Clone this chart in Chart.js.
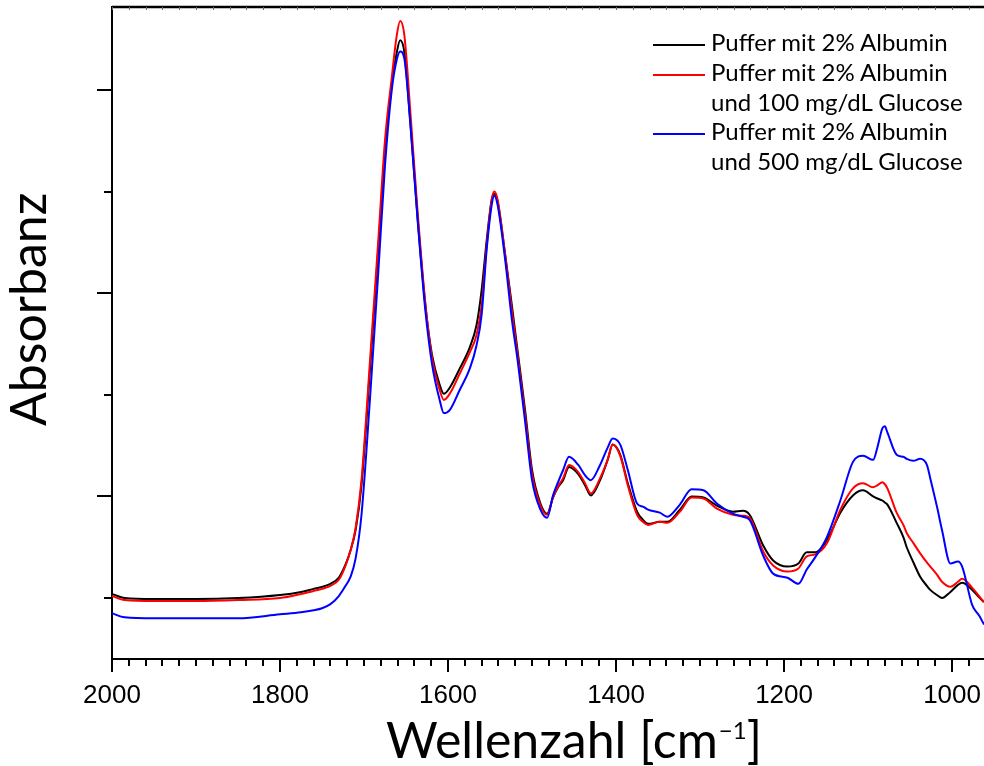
<!DOCTYPE html>
<html>
<head>
<meta charset="utf-8">
<script src="https://cdn.jsdelivr.net/npm/chart.js@4.4.1/dist/chart.umd.min.js"></script>
<style>
  html, body { margin: 0; padding: 0; background: #fff; }
  #wrap { position: relative; width: 984px; height: 766px; overflow: hidden; }
  #chart { position: absolute; left: 0; top: 0; }
  .title { position: absolute; font-family: Lato, sans-serif; font-size: 50px; line-height: 1; white-space: nowrap; color: #000; }
  #xtitle { left: 386px; top: 714px; }
  #xtitle .sup { font-size: 24px; position: relative; top: -19px; margin-left: 1px; }
  #ytitle { left: 0; top: 0; transform-origin: 0 0; transform: translate(2px, 426px) rotate(-90deg); }
  #legend { position: absolute; left: 653px; top: 27px; font-family: Lato, sans-serif; font-size: 24px; color: #000; }
  #legend .row { height: 29.8px; line-height: 29.8px; white-space: nowrap; }
  #legend .sw { display: inline-block; width: 52px; height: 2px; vertical-align: middle; margin-right: 6px; }
  #legend .indent { padding-left: 58px; }
</style>
</head>
<body>
<div id="wrap">
  <canvas id="chart" width="984" height="766"></canvas>
  <div class="title" id="xtitle">Wellenzahl [cm<span class="sup">−1</span>]</div>
  <div class="title" id="ytitle">Absorbanz</div>
  <div id="legend"></div>
</div>
<script>
// wavenumbers in cm-1 (shared by all three spectra)
const wavenumbers = [2000, 1985, 1950, 1900, 1850, 1800, 1775, 1760, 1750, 1740,
  1730, 1722, 1716, 1710, 1703, 1693, 1683, 1675, 1667, 1661,
  1657, 1652, 1645, 1636, 1627, 1619, 1610, 1605, 1598, 1586,
  1574, 1566, 1560, 1554, 1548, 1545, 1541, 1532, 1524, 1517,
  1508, 1500, 1490, 1482, 1475, 1469, 1463, 1456, 1445, 1437,
  1430, 1419, 1410, 1404, 1395, 1386, 1375, 1368, 1362, 1348,
  1339, 1324, 1310, 1296, 1280, 1261, 1249, 1241, 1225, 1213,
  1196, 1183, 1173, 1163, 1149, 1133, 1118, 1106, 1094, 1089,
  1083, 1080, 1077, 1066, 1058, 1054, 1046, 1038, 1030, 1026,
  1018, 1012, 1002, 993, 988, 976, 968, 962];

// Puffer mit 2% Albumin
const albumin = [0.104, 0.100, 0.099, 0.099, 0.100, 0.103, 0.106, 0.109, 0.111, 0.114,
  0.120, 0.133, 0.147, 0.167, 0.211, 0.324, 0.444, 0.541, 0.605, 0.637,
  0.649, 0.637, 0.570, 0.472, 0.388, 0.339, 0.310, 0.301, 0.307, 0.326,
  0.347, 0.369, 0.403, 0.452, 0.492, 0.498, 0.490, 0.438, 0.388, 0.342,
  0.283, 0.226, 0.193, 0.183, 0.199, 0.209, 0.216, 0.229, 0.222, 0.211,
  0.201, 0.216, 0.236, 0.251, 0.241, 0.213, 0.185, 0.177, 0.173, 0.175,
  0.175, 0.187, 0.200, 0.199, 0.191, 0.185, 0.186, 0.182, 0.152, 0.137,
  0.131, 0.134, 0.145, 0.145, 0.157, 0.184, 0.201, 0.206, 0.200, 0.198,
  0.196, 0.194, 0.192, 0.174, 0.160, 0.150, 0.135, 0.121, 0.112, 0.108,
  0.103, 0.100, 0.106, 0.113, 0.115, 0.108, 0.101, 0.096];

// Puffer mit 2% Albumin und 100 mg/dL Glucose
const glucose100 = [0.102, 0.098, 0.097, 0.097, 0.098, 0.100, 0.104, 0.107, 0.109, 0.112,
  0.118, 0.132, 0.147, 0.169, 0.216, 0.332, 0.452, 0.551, 0.612, 0.654,
  0.668, 0.654, 0.580, 0.478, 0.390, 0.336, 0.305, 0.295, 0.301, 0.321,
  0.342, 0.359, 0.388, 0.447, 0.492, 0.500, 0.492, 0.438, 0.383, 0.338,
  0.278, 0.222, 0.191, 0.182, 0.199, 0.210, 0.218, 0.231, 0.224, 0.213,
  0.203, 0.218, 0.236, 0.251, 0.240, 0.211, 0.182, 0.175, 0.172, 0.175,
  0.174, 0.185, 0.199, 0.198, 0.188, 0.182, 0.181, 0.179, 0.146, 0.132,
  0.126, 0.129, 0.141, 0.143, 0.154, 0.187, 0.208, 0.213, 0.209, 0.211,
  0.214, 0.212, 0.208, 0.184, 0.172, 0.164, 0.154, 0.144, 0.135, 0.131,
  0.123, 0.116, 0.111, 0.116, 0.119, 0.110, 0.102, 0.096];

// Puffer mit 2% Albumin und 500 mg/dL Glucose
const glucose500 = [0.085, 0.081, 0.080, 0.080, 0.080, 0.084, 0.086, 0.088, 0.090, 0.094,
  0.102, 0.112, 0.121, 0.139, 0.182, 0.295, 0.421, 0.526, 0.600, 0.630,
  0.638, 0.631, 0.568, 0.470, 0.383, 0.330, 0.295, 0.282, 0.285, 0.305,
  0.326, 0.349, 0.379, 0.443, 0.487, 0.496, 0.487, 0.433, 0.374, 0.333,
  0.272, 0.216, 0.187, 0.179, 0.201, 0.214, 0.226, 0.239, 0.231, 0.221,
  0.216, 0.231, 0.248, 0.257, 0.251, 0.226, 0.193, 0.190, 0.187, 0.184,
  0.180, 0.192, 0.207, 0.206, 0.193, 0.183, 0.180, 0.177, 0.142, 0.124,
  0.120, 0.114, 0.128, 0.140, 0.160, 0.196, 0.234, 0.240, 0.236, 0.248,
  0.267, 0.269, 0.263, 0.241, 0.239, 0.237, 0.235, 0.237, 0.231, 0.218,
  0.190, 0.167, 0.134, 0.136, 0.131, 0.093, 0.083, 0.074];

const seriesLabels = [
  ['Puffer mit 2% Albumin'],
  ['Puffer mit 2% Albumin', 'und 100 mg/dL Glucose'],
  ['Puffer mit 2% Albumin', 'und 500 mg/dL Glucose']
];
const seriesColors = ['#000000', '#ff0000', '#0000ff'];

// axis ticks (y axis has no labels)
const xTickLabels = [2000, 1800, 1600, 1400, 1200, 1000];
const xMinorStep = 20;
const yTicks = [0.1, 0.2, 0.3, 0.4, 0.5, 0.6];
const yMajorTicks = [0.2, 0.4, 0.6];

const toPoints = arr => wavenumbers.map((w, i) => ({ x: w, y: arr[i] }));
const allSeries = [albumin, glucose100, glucose500];

// legend (html, two-line entries)
const legendEl = document.getElementById('legend');
seriesLabels.forEach((lines, i) => {
  lines.forEach((t, j) => {
    const row = document.createElement('div');
    row.className = 'row' + (j > 0 ? ' indent' : '');
    if (j === 0) {
      const sw = document.createElement('span');
      sw.className = 'sw';
      sw.style.background = seriesColors[i];
      row.appendChild(sw);
    }
    row.appendChild(document.createTextNode(t));
    legendEl.appendChild(row);
  });
});

// outward tick marks + top frame line
const tickMarks = {
  id: 'tickMarks',
  afterDraw(chart) {
    const { ctx, chartArea: a, scales: { x, y } } = chart;
    ctx.save();
    ctx.strokeStyle = '#000';
    ctx.lineWidth = 2;
    ctx.beginPath();
    yTicks.forEach(v => {
      const py = Math.round(y.getPixelForValue(v));
      const len = yMajorTicks.includes(v) ? 15 : 8;
      ctx.moveTo(a.left - len, py);
      ctx.lineTo(a.left, py);
    });
    for (let w = 2000; w >= x.min; w -= xMinorStep) {
      const px = Math.round(x.getPixelForValue(w));
      const len = xTickLabels.includes(w) ? 13 : 7;
      ctx.moveTo(px, a.bottom);
      ctx.lineTo(px, a.bottom + len);
    }
    ctx.stroke();
    // top frame
    ctx.lineWidth = 2.5;
    ctx.beginPath();
    ctx.moveTo(a.left, a.top);
    ctx.lineTo(a.right, a.top);
    ctx.stroke();
    ctx.lineWidth = 1;
    ctx.strokeStyle = '#666';
    ctx.beginPath();
    for (let w = 2000; w >= x.min; w -= xMinorStep) {
      const px = Math.round(x.getPixelForValue(w)) + 0.5;
      ctx.moveTo(px, a.top);
      ctx.lineTo(px, a.top + 3);
    }
    ctx.stroke();
    ctx.restore();
  }
};

new Chart(document.getElementById('chart'), {
  type: 'line',
  data: {
    datasets: allSeries.map((s, i) => ({
      label: seriesLabels[i].join(' '),
      data: toPoints(s),
      borderColor: seriesColors[i],
      borderWidth: 2,
      pointRadius: 0,
      fill: false,
      cubicInterpolationMode: 'monotone',
      order: 3 - i
    }))
  },
  options: {
    responsive: false,
    animation: false,
    devicePixelRatio: 1,
    layout: { padding: { top: 7, left: 0, right: 0, bottom: 0 } },
    plugins: { legend: { display: false }, tooltip: { enabled: false } },
    scales: {
      x: {
        type: 'linear',
        reverse: true,
        min: 962,
        max: 2000,
        afterBuildTicks: s => { s.ticks = xTickLabels.map(v => ({ value: v })); },
        afterFit: s => { s.height = 107; s.paddingLeft = 0; s.paddingRight = 0; },
        grid: { display: false, drawTicks: false },
        border: { display: true, color: '#000', width: 2 },
        ticks: {
          color: '#000',
          font: { family: 'Liberation Sans, Arial, sans-serif', size: 26 },
          padding: 21,
          maxRotation: 0,
          autoSkip: false,
          callback: v => String(v)
        }
      },
      y: {
        type: 'linear',
        min: 0.04,
        max: 0.6817,
        afterFit: s => { s.width = 112; s.paddingTop = 0; s.paddingBottom = 0; },
        grid: { display: false, drawTicks: false },
        border: { display: true, color: '#000', width: 2 },
        ticks: { display: false }
      }
    }
  },
  plugins: [tickMarks]
});
</script>
</body>
</html>
